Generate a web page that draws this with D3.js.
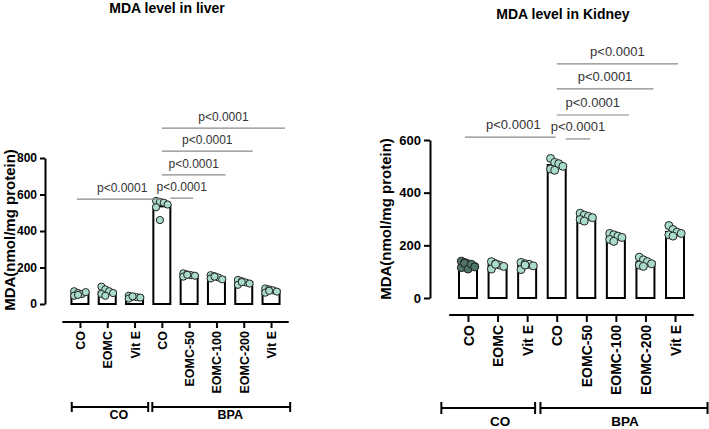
<!DOCTYPE html>
<html>
<head>
<meta charset="utf-8">
<script src="https://cdn.jsdelivr.net/npm/d3@7"></script>
<style>
  body { margin: 0; background: #fff; }
  svg { font-family: "Liberation Sans", Arial, sans-serif; }
</style>
</head>
<body>
<svg id="chart" width="709" height="429"></svg>
<script>
// group labels on the x axis (same for both panels)
const categories = ["CO", "EOMC", "Vit E", "CO", "EOMC-50", "EOMC-100", "EOMC-200", "Vit E"];
const treatments = ["CO", "BPA"];
const treatmentSpans = [[0, 2], [3, 7]];

// liver: bar means + single animal values
const liverMeans = [58, 67, 38, 535, 158, 145, 118, 74];
const liverPoints = [
  [70, 60, 55, 65, 45, 50],
  [95, 80, 70, 60, 55, 45],
  [45, 40, 38, 35, 30, 42],
  [565, 560, 555, 545, 530, 460],
  [168, 162, 158, 155, 150, 160],
  [158, 152, 145, 135, 140, 150],
  [132, 125, 118, 112, 105, 120],
  [85, 80, 75, 68, 62, 72]
];
const liverTicks = [0, 200, 400, 600, 800];
// [from group, to group, height in data units]
const liverSig = [[0, 3, 575], [3, 4, 580], [3, 5, 707], [3, 6, 838], [3, 7, 964]];

// kidney
const kidneyMeans = [126, 124, 124, 505, 307, 232, 136, 251];
const kidneyPoints = [
  [140, 135, 130, 125, 120, 115, 132, 110, 128, 118],
  [138, 130, 125, 120, 110, 128],
  [135, 130, 128, 122, 108, 125],
  [530, 515, 510, 500, 490, 485],
  [322, 315, 310, 305, 298, 292],
  [245, 240, 235, 230, 222, 215],
  [155, 145, 138, 130, 125, 120],
  [275, 260, 250, 245, 240, 235]
];
const kidneyTicks = [0, 200, 400, 600];
const kidneySig = [[0, 3, 611], [3, 4, 604], [3, 5, 695], [3, 6, 794], [3, 7, 889]];

const svg = d3.select("#chart");

function drawPanel(cfg) {
  const g = svg.append("g");
  const idx = d3.range(categories.length);

  const x = d3.scalePoint().domain(idx).range(cfg.xRange).padding(0.5);
  const step = x.step();
  const y = d3.scaleLinear().domain(cfg.yDomain).range(cfg.yRange);
  const bw = cfg.barWidth;

  // title
  g.append("text")
    .attr("x", cfg.title[0]).attr("y", cfg.title[1])
    .attr("text-anchor", "middle")
    .attr("font-weight", "bold").attr("font-size", 14)
    .text(cfg.titleText);

  // y label
  g.append("text")
    .attr("transform", `translate(${cfg.yLabel[0]},${cfg.yLabel[1]}) rotate(-90)`)
    .attr("text-anchor", "middle")
    .attr("font-weight", "bold").attr("font-size", cfg.yLabelSize)
    .text("MDA(nmol/mg protein)");

  // y axis
  const yAxis = g.append("g")
    .attr("transform", `translate(${cfg.axisX},0)`)
    .call(d3.axisLeft(y).tickValues(cfg.ticks).tickSize(cfg.yTickLen).tickSizeOuter(0));
  yAxis.selectAll("path, line").attr("stroke", "#000").attr("stroke-width", 2);
  yAxis.selectAll("text").attr("font-size", cfg.yTickFont).attr("font-weight", "bold").attr("fill", "#000");

  // bars
  g.selectAll("rect.bar")
    .data(cfg.means)
    .join("rect")
    .attr("class", "bar")
    .attr("x", (d, i) => x(i) - bw / 2)
    .attr("y", d => y(d))
    .attr("width", bw)
    .attr("height", d => y(0) - y(d))
    .attr("fill", "#fff")
    .attr("stroke", "#000")
    .attr("stroke-width", 2);

  // dots
  cfg.points.forEach((vals, i) => {
    const n = vals.length;
    const cols = n > 6 ? 5 : 4;
    g.selectAll(null)
      .data(vals)
      .join("circle")
      .attr("cx", (d, j) => x(i) + ((j % cols) - (cols - 1) / 2) * (bw / (cols + 0.4)))
      .attr("cy", d => y(d))
      .attr("r", cfg.r)
      .attr("fill", cfg.darkFirst && i === 0 ? "#4f7468" : "#a9dcc9")
      .attr("stroke", "#222")
      .attr("stroke-width", 1);
  });

  // x axis
  const base = cfg.axisY;
  g.append("line")
    .attr("x1", cfg.xRange[0] - 4).attr("x2", cfg.xRange[1] + 4)
    .attr("y1", base).attr("y2", base)
    .attr("stroke", "#000").attr("stroke-width", 2);
  const xAxis = g.append("g")
    .attr("transform", `translate(0,${base})`)
    .call(d3.axisBottom(x).tickSize(cfg.xTickLen).tickFormat(i => categories[i]));
  xAxis.select(".domain").remove();
  xAxis.selectAll("line").attr("stroke", "#000").attr("stroke-width", 2);
  xAxis.selectAll("text")
    .attr("transform", "rotate(-90)")
    .attr("x", -(cfg.xTickLen + 3)).attr("y", 0).attr("dy", "0.36em")
    .attr("text-anchor", "end")
    .attr("font-size", cfg.xLabelFont).attr("font-weight", "bold").attr("fill", "#000");

  // treatment brackets
  treatmentSpans.forEach((sp, k) => {
    const x1 = x(sp[0]) + cfg.bracket[k][0] * step;
    const x2 = x(sp[1]) + cfg.bracket[k][1] * step;
    const by = cfg.bracketY;
    g.append("path")
      .attr("d", `M${x1},${by - cfg.cap}V${by + cfg.cap}M${x1},${by}H${x2}M${x2},${by - cfg.cap}V${by + cfg.cap}`)
      .attr("fill", "none").attr("stroke", "#000").attr("stroke-width", 2);
    g.append("text")
      .attr("x", (x1 + x2) / 2 + cfg.bracketLabelShift[k])
      .attr("y", cfg.bracketLabelY)
      .attr("text-anchor", "middle")
      .attr("font-size", cfg.bracketFont).attr("font-weight", "bold")
      .text(treatments[k]);
  });

  // significance lines
  cfg.sig.forEach(([a, b, h], k) => {
    let x1, x2;
    if (k === 0) { x1 = x(a) - 3; x2 = x(b) - bw / 2 + 8; }
    else if (k === 1) { x1 = x(a) + bw / 2; x2 = x(b) + 4; }
    else { x1 = x(a); x2 = x(b) + cfg.sigEnd[k - 2]; }
    const ly = y(h);
    g.append("line")
      .attr("x1", x1).attr("x2", x2).attr("y1", ly).attr("y2", ly)
      .attr("stroke", "#8a8a8a").attr("stroke-width", 1.2);
    g.append("text")
      .attr("x", (x1 + x2) / 2 + (k === 0 ? 3 : 0))
      .attr("y", ly - cfg.sigGap)
      .attr("text-anchor", "middle")
      .attr("font-size", cfg.pFont).attr("fill", "#333")
      .text("p<0.0001");
  });
}

drawPanel({
  titleText: "MDA level in liver", title: [167, 13],
  yLabel: [15, 230], yLabelSize: 15,
  means: liverMeans, points: liverPoints, ticks: liverTicks, sig: liverSig,
  yDomain: [0, 800], yRange: [304, 158], axisX: 45, yTickLen: 5, yTickFont: 12,
  xRange: [66.3, 284.7], axisY: 322, xTickLen: 6, xLabelFont: 12.5,
  barWidth: 17, r: 3.6,
  bracket: [[-0.3, 0.5], [-0.35, 0.7]], bracketY: 407, cap: 5,
  bracketLabelY: 419, bracketLabelShift: [9, 9], bracketFont: 12.5,
  sigEnd: [9, 9, 14], sigGap: 7, pFont: 12
});

drawPanel({
  titleText: "MDA level in Kidney", title: [563, 19],
  yLabel: [391, 219], yLabelSize: 15,
  means: kidneyMeans, points: kidneyPoints, ticks: kidneyTicks, sig: kidneySig,
  yDomain: [0, 600], yRange: [298, 140], axisX: 430, yTickLen: 6, yTickFont: 13,
  xRange: [453.2, 689.8], axisY: 315, xTickLen: 7, xLabelFont: 14,
  barWidth: 18, r: 4, darkFirst: true,
  bracket: [[-0.9, 0.27], [-0.55, 1.1]], bracketY: 408, cap: 6,
  bracketLabelY: 426, bracketLabelShift: [12, 1], bracketFont: 13.5,
  sigEnd: [13, 8, 3], sigGap: 8, pFont: 13
});
</script>
</body>
</html>
